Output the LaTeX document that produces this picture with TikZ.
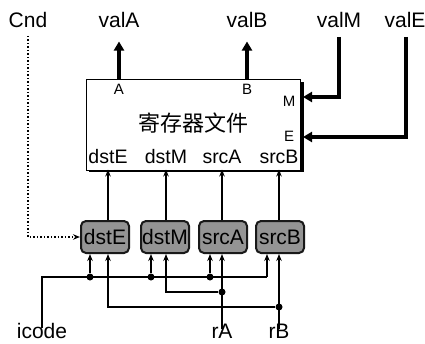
\documentclass[tikz,border=0pt]{standalone}
\usepackage{fontspec}
\setmainfont{Liberation Sans}
\newfontfamily\cjk{Noto Sans CJK SC}
\usetikzlibrary{arrows.meta}
\tikzset{
  lbl/.style={inner sep=0pt, font=\fontsize{21}{23}\selectfont},
  inl/.style={inner sep=0pt, font=\fontsize{19.5}{21}\selectfont},
  port/.style={inner sep=0pt, font=\fontsize{15}{17}\selectfont},
  rfbox/.style={draw, line width=1pt, fill=white, minimum width=214pt, minimum height=91pt, inner sep=0pt},
  regbox/.style={draw=black!90, line width=2pt, fill=black!42, rounded corners=5pt, minimum width=48pt, minimum height=32pt, inner sep=0pt, font=\fontsize{21}{22}\selectfont},
  arr/.style={line width=1.1pt, -{Stealth[length=7pt,width=5.5pt]}},
  line/.style={line width=1.1pt},
  bigarr/.style={line width=3.6pt, -{Triangle[length=9pt,width=10pt]}},
  dotarr/.style={line width=1.5pt, dotted, -{Stealth[length=7pt,width=5.5pt]}},
  jdot/.style={circle, fill=black, inner sep=0pt, minimum size=7pt}
}
\begin{document}
\begin{tikzpicture}[x=1pt,y=-1pt]
\useasboundingbox (0,0) rectangle (425,343);
% top labels
\node[lbl] (cnd) at (28,20) {Cnd};
\node[lbl] (valA) at (119,20) {valA};
\node[lbl] (valB) at (247,20) {valB};
\node[lbl] (valM) at (339,20) {valM};
\node[lbl] (valE) at (405,20) {valE};
% register file with shadow
\fill[black] (89,82) rectangle (303.5,172);
\node[rfbox] (rf) at (193,124.5) {};
\node[font=\cjk\fontsize{22}{24}\selectfont, inner sep=0pt] (title) at (193,123) {寄存器文件};
\node[port] (pA) at (119,89) {A};
\node[port] (pB) at (247,89) {B};
\node[port] (pM) at (289,101) {M};
\node[port] (pE) at (289,136) {E};
\node[inl] (lE) at (108,157) {dstE};
\node[inl] (lM) at (166,157) {dstM};
\node[inl] (lA) at (222,157) {srcA};
\node[inl] (lB) at (279,157) {srcB};
% outputs
\draw[bigarr] (rf.north -| pA) -- ++(0,-37);
\draw[bigarr] (rf.north -| pB) -- ++(0,-37);
\coordinate (mIn) at (339,97);
\coordinate (eIn) at (406,137);
\draw[bigarr] ([yshift=-9pt]valM.south) -- (mIn) -- ([xshift=2.5pt]rf.east |- mIn);
\draw[bigarr] ([yshift=-9pt]valE.south -| eIn) -- (eIn) -- ([xshift=2.5pt]rf.east |- eIn);
% small register boxes
\node[regbox] (sE) at (105,237) {dstE};
\node[regbox] (sM) at (165,237) {dstM};
\node[regbox] (sA) at (223,237) {srcA};
\node[regbox] (sB) at (280,237) {srcB};
\draw[arr] (sE.north -| lE) -- ([yshift=1pt]rf.south -| lE);
\draw[arr] (sM.north -| lM) -- ([yshift=1pt]rf.south -| lM);
\draw[arr] (sA.north -| lA) -- ([yshift=1pt]rf.south -| lA);
\draw[arr] (sB.north -| lB) -- ([yshift=1pt]rf.south -| lB);
% Cnd
\draw[dotarr] ([yshift=-8pt]cnd.south) |- (sE.west);
% bottom labels
\node[lbl] (icode) at (42,331) {icode};
\node[lbl] (rA) at (222,331) {rA};
\node[lbl] (rB) at (279,331) {rB};
% icode bus
\coordinate (i0) at (42,277);
\coordinate (cB) at (267,277);
\node[jdot] (d1) at (90,277) {};
\node[jdot] (d2) at (151,277) {};
\node[jdot] (d3) at (210,277) {};
\draw[line] ([yshift=-5pt]icode.north) -- (i0) -- (cB);
\draw[arr] (cB) -- (sB.south -| cB);
\draw[arr] (d1) -- (sE.south -| d1);
\draw[arr] (d2) -- (sM.south -| d2);
\draw[arr] (d3) -- (sA.south -| d3);
% rA
\node[jdot] (dA) at (222,292) {};
\coordinate (mA) at (166,292);
\draw[arr] ([yshift=-5pt]rA.north) -- (sA.south -| rA);
\draw[arr] (dA) -- (mA) -- (sM.south -| mA);
% rB
\node[jdot] (dB) at (279,307) {};
\coordinate (mB) at (108,307);
\draw[arr] ([yshift=-5pt]rB.north) -- (sB.south -| rB);
\draw[arr] (dB) -- (mB) -- (sE.south -| mB);
\end{tikzpicture}
\end{document}
